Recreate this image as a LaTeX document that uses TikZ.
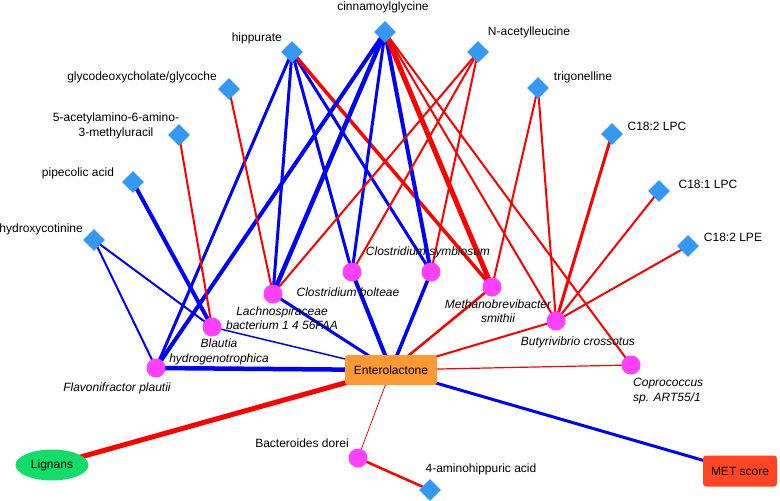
\documentclass[tikz,border=0pt]{standalone}
\usepackage{fontspec}
\setmainfont{Liberation Sans}
\usetikzlibrary{shapes.geometric}
\pgfdeclarelayer{bg}
\pgfsetlayers{bg,main}
\definecolor{dia}{RGB}{52,152,245}
\definecolor{mag}{RGB}{255,64,255}
\definecolor{eblue}{RGB}{0,0,255}
\definecolor{ered}{RGB}{255,0,0}
\definecolor{entc}{RGB}{255,153,51}
\definecolor{metc}{RGB}{255,69,36}
\definecolor{ligc}{RGB}{20,220,105}
\begin{document}
\begin{tikzpicture}[x=1pt,y=-1pt,
  mtb/.style={diamond,fill=dia,minimum size=22pt,inner sep=0pt},
  bac/.style={circle,fill=mag,minimum size=19pt,inner sep=0pt},
  lbl/.style={font=\fontsize{12}{14.5}\selectfont,inner sep=0pt,align=center},
  ilbl/.style={font=\fontsize{12}{14.5}\selectfont\itshape,inner sep=0pt,align=center},
  bl/.style={draw=eblue,line width=#1pt},
  rd/.style={draw=ered,line width=#1pt}]
\useasboundingbox (0,0) rectangle (780,501);
% metabolites
\node[mtb] (cin) at (385,32) {};
\node[mtb] (hip) at (292,52) {};
\node[mtb] (nac) at (478,52) {};
\node[mtb] (gly) at (229,89) {};
\node[mtb] (aam) at (179,135) {};
\node[mtb] (pip) at (133,182) {};
\node[mtb] (hyd) at (94,240) {};
\node[mtb] (tri) at (538,88) {};
\node[mtb] (lpca) at (612,134) {};
\node[mtb] (lpcb) at (659,191) {};
\node[mtb] (lpe) at (688,246) {};
\node[mtb] (amh) at (430,490) {};
% bacteria
\node[bac] (lach) at (273,294) {};
\node[bac] (cbol) at (352,272) {};
\node[bac] (csym) at (431,272) {};
\node[bac] (meth) at (492,287) {};
\node[bac] (buty) at (556,321) {};
\node[bac] (copr) at (631,365) {};
\node[bac] (blau) at (212,327) {};
\node[bac] (flav) at (156,368) {};
\node[bac] (bdor) at (358,458) {};
% main nodes
\node[rectangle,rounded corners=3pt,fill=entc,minimum width=92pt,minimum height=30pt,lbl] (ent) at (391,370) {Enterolactone};
\node[rectangle,rounded corners=3pt,fill=metc,minimum width=74pt,minimum height=31pt,lbl] (met) at (740,471) {MET score};
\node[ellipse,fill=ligc,minimum width=73pt,minimum height=31pt,inner sep=0pt,lbl] (lig) at (52,465) {Lignans};
% labels
\node[lbl] (tcin) at (383,7) {cinnamoylglycine};
\node[lbl,anchor=east] (thip) at (282,38) {hippurate};
\node[lbl] (tgly) at (142,77) {glycodeoxycholate/glycoche};
\node[lbl] (taam) at (116,126) {5-acetylamino-6-amino-\\3-methyluracil};
\node[lbl] (tpip) at (78,173) {pipecolic acid};
\node[lbl,anchor=east] (thyd) at (83,229) {hydroxycotinine};
\node[lbl] (tnac) at (529,32) {N-acetylleucine};
\node[lbl] (ttri) at (583,77) {trigonelline};
\node[lbl] (tlpca) at (657,126) {C18:2 LPC};
\node[lbl] (tlpcb) at (708,184) {C18:1 LPC};
\node[lbl] (tlpe) at (733,237) {C18:2 LPE};
\node[lbl] (tamh) at (481,469) {4-aminohippuric acid};
\node[lbl] (tbdor) at (302,443) {Bacteroides dorei};
\node[ilbl] (tlach) at (282,318) {Lachnospiraceae\\bacterium 1 4 56FAA};
\node[ilbl] (tcbol) at (348,292) {Clostridium bolteae};
\node[ilbl] (tcsym) at (428,252) {Clostridium symbiosum};
\node[ilbl] (tmeth) at (498,311) {Methanobrevibacter\\smithii};
\node[ilbl] (tblau) at (219,352) {Blautia\\hydrogenotrophica};
\node[ilbl] (tflav) at (117,388) {Flavonifractor plautii};
\node[ilbl] (tbuty) at (578,342) {Butyrivibrio crossotus};
\node[ilbl,align=left,anchor=west] (tcopr) at (633,391) {Coprococcus\\sp. ART55/1};
% edges
\begin{pgfonlayer}{bg}
\draw[bl=3] (hip.center) -- (flav.center);
\draw[bl=3] (hip.center) -- (lach.center);
\draw[bl=3] (hip.center) -- (cbol.center);
\draw[bl=3] (hip.center) -- (csym.center);
\draw[rd=3.5] (hip.center) -- (meth.center);
\draw[bl=4] (cin.center) -- (flav.center);
\draw[bl=4.5] (cin.center) -- (lach.center);
\draw[bl=3] (cin.center) -- (cbol.center);
\draw[bl=4] (cin.center) -- (csym.center);
\draw[rd=5] (cin.center) -- (meth.center);
\draw[rd=2] (cin.center) -- (buty.center);
\draw[rd=2] (cin.center) -- (copr.center);
\draw[rd=2] (nac.center) -- (lach.center);
\draw[rd=2] (nac.center) -- (cbol.center);
\draw[rd=2] (nac.center) -- (csym.center);
\draw[rd=2] (gly.center) -- (lach.center);
\draw[rd=2] (aam.center) -- (blau.center);
\draw[bl=4] (pip.center) -- (blau.center);
\draw[bl=2] (hyd.center) -- (flav.center);
\draw[bl=2] (hyd.center) -- (blau.center);
\draw[rd=2] (tri.center) -- (meth.center);
\draw[rd=2] (tri.center) -- (buty.center);
\draw[rd=3] (lpca.center) -- (buty.center);
\draw[rd=2] (lpcb.center) -- (buty.center);
\draw[rd=2] (lpe.center) -- (buty.center);
\draw[bl=4.5] (flav.center) -- (ent.center);
\draw[bl=1.5] (blau.center) -- (ent.center);
\draw[bl=3] (lach.center) -- (ent.center);
\draw[bl=4] (cbol.center) -- (ent.center);
\draw[bl=3.5] (csym.center) -- (ent.center);
\draw[rd=2.5] (meth.center) -- (ent.center);
\draw[rd=2] (buty.center) -- (ent.center);
\draw[rd=1.2] (copr.center) -- (ent.center);
\draw[rd=5] (lig.center) -- (ent.center);
\draw[bl=3] (ent.center) -- (met.center);
\draw[rd=0.8] (bdor.center) -- (ent.center);
\draw[rd=2.5] (bdor.center) -- (amh.center);
\end{pgfonlayer}
\end{tikzpicture}
\end{document}
